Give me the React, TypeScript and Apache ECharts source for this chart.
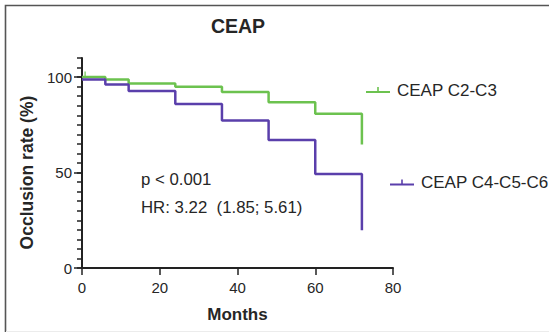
import React, { useEffect, useRef } from "react";
import * as echarts from "echarts";

const months = [0, 6, 12, 24, 36, 48, 60, 72];
const c23Values = [100, 98.7, 96.6, 95.0, 92.2, 86.8, 80.8, 64.7];
const c456Values = [98.7, 96.1, 92.7, 85.9, 77.2, 67.0, 49.2, 19.8];
const censored23 = [[0.8, 100]];
const seriesNames = ["CEAP C2-C3", "CEAP C4-C5-C6"];
const xTicks = { min: 0, max: 80, interval: 20 };
const yLabelTicks = { min: 0, max: 100, interval: 50 };
const yMinorTicks = { min: 0, max: 110, interval: 5 };
const titleText = "CEAP";
const xName = "Months";
const yName = "Occlusion rate (%)";
const notes = ["p < 0.001", "HR: 3.22  (1.85; 5.61)"];

const GREEN = "#6cc24f";
const PURPLE = "#5a3fab";
const FONT = "'Liberation Sans', Arial, sans-serif";
const TXT = "#262626";
const AX = "#222";
const legendIcon = "path://M0,4h24v2h-24z M11.2,0h1.6v4h-1.6z";

export default function App() {
  const ref = useRef<HTMLDivElement>(null);
  useEffect(() => {
    const chart = echarts.init(ref.current!, undefined, { renderer: "svg" });
    const grid = { left: 82, right: 156, bottom: 64 };
    chart.setOption({
      animation: false,
      backgroundColor: "#fff",
      textStyle: { fontFamily: FONT },
      grid: [
        { ...grid, top: 58 },
        { ...grid, top: 77.1 },
      ],
      xAxis: [
        {
          gridIndex: 0,
          type: "value",
          ...xTicks,
          axisLine: { lineStyle: { color: AX, width: 2 } },
          axisTick: { inside: false, length: 7, lineStyle: { color: AX, width: 1.5 } },
          axisLabel: { fontSize: 15, color: TXT, margin: 12, fontFamily: FONT },
          splitLine: { show: false },
          name: xName,
          nameLocation: "middle",
          nameGap: 38,
          nameTextStyle: { fontSize: 17, fontWeight: "bold", color: TXT, fontFamily: FONT },
        },
        {
          gridIndex: 1,
          type: "value",
          ...xTicks,
          show: false,
        },
      ],
      yAxis: [
        {
          gridIndex: 0,
          type: "value",
          ...yMinorTicks,
          axisLine: { show: true, lineStyle: { color: AX, width: 2 } },
          axisTick: { show: true, inside: false, length: 5, lineStyle: { color: AX, width: 1.5 } },
          axisLabel: { show: false },
          splitLine: { show: false },
        },
        {
          gridIndex: 1,
          type: "value",
          ...yLabelTicks,
          axisLine: { show: false },
          axisTick: { show: true, inside: false, length: 8, lineStyle: { color: AX, width: 1.5 } },
          axisLabel: { fontSize: 15, color: TXT, margin: 10, fontFamily: FONT },
          splitLine: { show: false },
          name: yName,
          nameLocation: "middle",
          nameGap: 45,
          nameTextStyle: { fontSize: 17.5, fontWeight: "bold", color: TXT, fontFamily: FONT },
        },
      ],
      legend: [
        {
          data: [seriesNames[0]],
          left: 361,
          top: 76.5,
          itemWidth: 24,
          itemHeight: 6,
          icon: legendIcon,
          selectedMode: false,
          textStyle: { fontSize: 17, color: TXT, fontFamily: FONT, padding: [0, 0, 0, 2] },
        },
        {
          data: [seriesNames[1]],
          left: 385,
          top: 169,
          itemWidth: 24,
          itemHeight: 6,
          icon: legendIcon,
          selectedMode: false,
          textStyle: { fontSize: 17, color: TXT, fontFamily: FONT, padding: [0, 0, 0, 2] },
        },
      ],
      series: [
        {
          name: seriesNames[0],
          type: "line",
          xAxisIndex: 0,
          yAxisIndex: 0,
          step: "end",
          data: months.map((m, i) => [m, c23Values[i]]),
          showSymbol: false,
          symbol: "none",
          color: GREEN,
          lineStyle: { color: GREEN, width: 2.5 },
          emphasis: { disabled: true },
          z: 3,
        },
        {
          name: seriesNames[1],
          type: "line",
          xAxisIndex: 0,
          yAxisIndex: 0,
          step: "end",
          data: months.map((m, i) => [m, c456Values[i]]),
          showSymbol: false,
          symbol: "none",
          color: PURPLE,
          lineStyle: { color: PURPLE, width: 2.5 },
          emphasis: { disabled: true },
          z: 4,
        },
        {
          name: "censored",
          type: "scatter",
          xAxisIndex: 0,
          yAxisIndex: 0,
          data: censored23,
          symbol: "rect",
          symbolSize: [1.5, 5],
          symbolOffset: [0, -3],
          itemStyle: { color: GREEN },
          emphasis: { disabled: true },
          silent: true,
          z: 2,
        },
      ],
      graphic: [
        {
          type: "polyline",
          shape: { points: [[5.5, 332], [5.5, 5.5], [549, 5.5]] },
          style: { stroke: "#555", lineWidth: 1.6, fill: "none" },
          silent: true,
        },
        {
          type: "line",
          shape: { x1: 6, y1: 331.5, x2: 549, y2: 331.5 },
          style: { stroke: "#ececec", lineWidth: 1 },
          silent: true,
        },
        {
          type: "text",
          x: 238,
          y: 25.8,
          style: {
            text: titleText,
            font: `bold 19.5px ${FONT}`,
            fill: TXT,
            align: "center",
            verticalAlign: "middle",
          },
        },
        {
          type: "text",
          x: 141,
          y: 179.2,
          style: {
            text: notes[0],
            font: `16.8px ${FONT}`,
            fill: TXT,
            align: "left",
            verticalAlign: "middle",
          },
        },
        {
          type: "text",
          x: 141,
          y: 207.5,
          style: {
            text: notes[1],
            font: `16.8px ${FONT}`,
            fill: TXT,
            align: "left",
            verticalAlign: "middle",
          },
        },
      ],
    });
    return () => chart.dispose();
  }, []);
  return (
    <div
      ref={ref}
      style={{ position: "fixed", left: 0, top: 0, width: 549, height: 332 }}
    />
  );
}
